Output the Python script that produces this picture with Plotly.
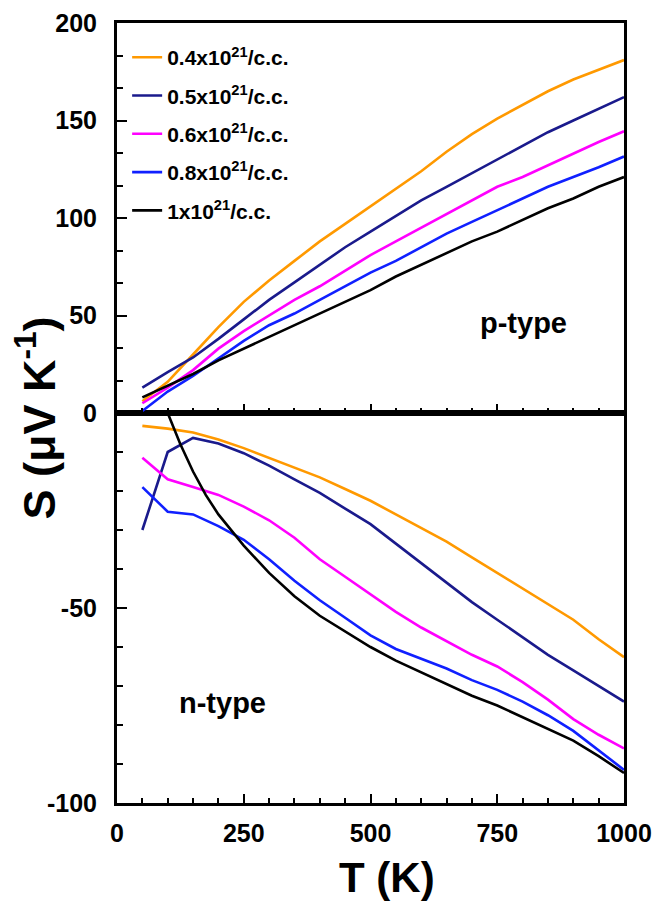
import plotly.graph_objects as go

# Temperature grid (K)
T = [50, 100, 150, 200, 250, 300, 350, 400, 450, 500,
     550, 600, 650, 700, 750, 800, 850, 900, 950, 1000]
T_BLACK_N = [100, 125, 150, 175, 200, 250, 300, 350, 400, 450, 500,
             550, 600, 650, 700, 750, 800, 850, 900, 950, 1000]

LABELS = ["0.4x10<sup>21</sup>/c.c.", "0.5x10<sup>21</sup>/c.c.",
          "0.6x10<sup>21</sup>/c.c.", "0.8x10<sup>21</sup>/c.c.",
          "1x10<sup>21</sup>/c.c."]
COLORS = ["#FF9900", "#1A1A8C", "#FF00FF", "#1020FF", "#000000"]

# Seebeck coefficient, p-type (uV/K)
P_04 = [6, 16, 30, 44, 57, 68, 78, 88, 97, 106, 115, 124, 134, 143, 151, 158, 165, 171, 176, 181]
P_05 = [13, 21, 28.5, 38, 48, 58, 67, 76, 85, 93, 101, 109, 116, 123, 130, 137, 144, 150, 156, 162]
P_06 = [5, 13, 22, 33, 42, 50, 58, 65, 73, 81, 88, 95, 102, 109, 116, 121, 127, 133, 139, 144.5]
P_08 = [1, 11, 19, 28, 37, 45, 51, 58, 65, 72, 78, 85, 92, 98, 104, 110, 116, 121, 126, 131.5]
P_10 = [8, 14, 20, 27, 33, 39, 45, 51, 57, 63, 70, 76, 82, 88, 93, 99, 105, 110, 116, 121]

# Seebeck coefficient, n-type (uV/K)
N_04 = [-3.3, -4, -5, -6.8, -9, -11.5, -14, -16.5, -19.5, -22.5,
        -26, -29.5, -33, -37, -41, -45, -49, -53, -58, -62.6]
N_05 = [-30, -10, -6.4, -7.8, -10.3, -13.5, -17, -20.5, -24.5, -28.5,
        -33.5, -38.5, -43.5, -48.5, -53, -57.5, -62, -66, -70, -74]
N_06 = [-11.5, -17, -19, -21, -24, -27.5, -32, -37.5, -42, -46.5,
        -51, -55, -58.5, -62, -65, -69, -73.5, -78.5, -82.5, -86]
N_08 = [-19, -25.3, -26, -29, -32.5, -37.5, -43, -48, -52.5, -57,
        -60.5, -63, -65.5, -68.5, -71, -74, -77.5, -81.5, -86.5, -91.5]
N_10 = [0, -8, -15, -21, -26, -34, -41, -47, -52, -56, -60,
        -63.5, -66.5, -69.5, -72.5, -75, -78, -81, -84, -88, -92.3]

P_SERIES = [P_04, P_05, P_06, P_08, P_10]
N_SERIES = [N_04, N_05, N_06, N_08, N_10]
N_TEMPS = [T, T, T, T, T_BLACK_N]

# Tick labels
X_TICKS = [0, 250, 500, 750, 1000]
Y_TICKS_P = [0, 50, 100, 150, 200]
Y_TICKS_N = [-100, -50]

FONT = "Liberation Sans, Arial, sans-serif"
LW = 2.6

fig = go.Figure()

for i, (lab, col, ys) in enumerate(zip(LABELS, COLORS, P_SERIES)):
    fig.add_trace(go.Scatter(
        x=T, y=ys, mode="lines", name=lab, legendgroup=f"g{i}",
        line=dict(color=col, width=LW), xaxis="x2", yaxis="y2"))

for i, (col, xs, ys) in enumerate(zip(COLORS, N_TEMPS, N_SERIES)):
    fig.add_trace(go.Scatter(
        x=xs, y=ys, mode="lines", legendgroup=f"g{i}", showlegend=False,
        line=dict(color=col, width=LW), xaxis="x", yaxis="y"))

tickfont = dict(family=FONT, size=25, color="black", weight="bold")
common_x = dict(range=[0, 1000], showgrid=False, zeroline=False,
                showline=True, linecolor="black", linewidth=3, mirror=True,
                ticks="inside", ticklen=9, tickwidth=2, tickcolor="black",
                tickvals=X_TICKS, ticktext=[str(v) for v in X_TICKS],
                automargin=False,
                minor=dict(ticks="inside", ticklen=5, tickwidth=2,
                           tickcolor="black", dtick=50, tick0=0,
                           showgrid=False))
common_y = dict(showgrid=False, zeroline=False, showline=True,
                linecolor="black", linewidth=3, mirror=True,
                ticks="inside", ticklen=10, tickwidth=2, tickcolor="black",
                tickfont=tickfont, ticklabelstandoff=12, automargin=False)

fig.update_layout(
    width=656, height=903,
    margin=dict(l=117, r=32, t=23, b=100, autoexpand=False),
    plot_bgcolor="white", paper_bgcolor="white",
    showlegend=True,
    xaxis=dict(**common_x, domain=[0, 1], anchor="y",
               tickfont=tickfont, ticklabelstandoff=6),
    xaxis2=dict(**common_x, domain=[0, 1], anchor="y2",
                showticklabels=False, matches="x"),
    yaxis=dict(**common_y, domain=[0, 0.5], anchor="x", range=[-100, 0],
               tickvals=Y_TICKS_N, ticktext=[str(v) for v in Y_TICKS_N],
               minor=dict(ticks="inside", ticklen=6, tickwidth=2,
                          tickcolor="black", dtick=10, tick0=0, showgrid=False)),
    yaxis2=dict(**common_y, domain=[0.5, 1], anchor="x2", range=[0, 200],
                tickvals=Y_TICKS_P, ticktext=[str(v) for v in Y_TICKS_P],
                minor=dict(ticks="inside", ticklen=6, tickwidth=2,
                           tickcolor="black", dtick=50 / 3, tick0=0,
                           showgrid=False)),
    legend=dict(x=0.02, y=0.982, xanchor="left", yanchor="top",
                bgcolor="rgba(0,0,0,0)", borderwidth=0,
                font=dict(family=FONT, size=21, color="black", weight="bold"),
                tracegroupgap=8, itemwidth=30),
)

fig.add_annotation(text="T (K)", xref="paper", yref="paper",
                   x=0.533, y=-0.096, xanchor="center", yanchor="middle",
                   showarrow=False,
                   font=dict(family=FONT, size=42, color="black", weight="bold"))
fig.add_annotation(text="S (\u03bcV K<sup>-1</sup>)", xref="paper", yref="paper",
                   x=-0.16, y=0.494, xanchor="center", yanchor="middle",
                   textangle=-90, showarrow=False,
                   font=dict(family=FONT, size=45, color="black", weight="bold"))
fig.add_annotation(text="p-type", xref="x2", yref="y2", x=801, y=46,
                   showarrow=False,
                   font=dict(family=FONT, size=29, color="black", weight="bold"))
fig.add_annotation(text="n-type", xref="x", yref="y", x=209, y=-74.4,
                   showarrow=False,
                   font=dict(family=FONT, size=29, color="black", weight="bold"))

fig.write_html("out.html")
